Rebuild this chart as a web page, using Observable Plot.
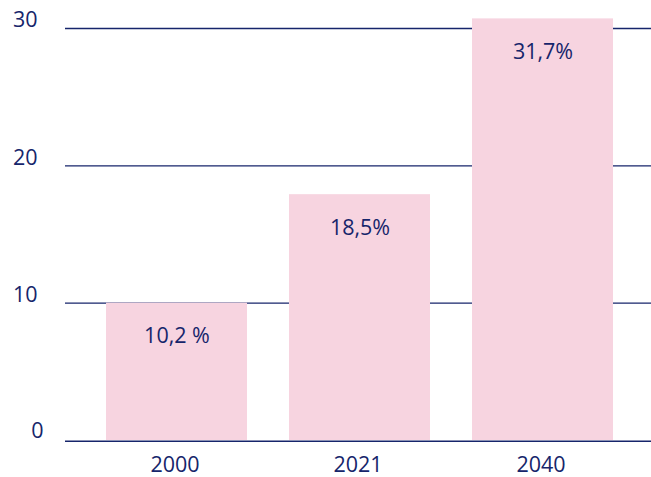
<!DOCTYPE html>
<html>
<head>
<meta charset="utf-8">
<script src="https://cdn.jsdelivr.net/npm/d3@7"></script>
<script src="https://cdn.jsdelivr.net/npm/@observablehq/plot@0.6"></script>
<style>
  html, body { margin: 0; padding: 0; background: #fff; }
  #chart svg { display: block; }
</style>
</head>
<body>
<div id="chart"></div>
<script>
const years = ["2000", "2021", "2040"];
const values = [10.0, 17.9, 30.7];
const labels = ["10,2 %", "18,5%", "31,7%"];
const yTicks = [0, 10, 20, 30];

const data = years.map((y, i) => ({year: y, value: values[i], label: labels[i]}));

const navy = "#16256b";
const pink = "#f7d4e0";
const font = "'Open Sans', 'Noto Sans', sans-serif";
const fs = 21.5;

const chart = Plot.plot({
  width: 651,
  height: 477,
  marginLeft: 65,
  marginRight: 0,
  marginTop: 28,
  marginBottom: 37,
  style: {fontFamily: font, fontSize: fs + "px", color: navy, background: "white"},
  x: {domain: years, range: [68, 651], paddingInner: 0.232, paddingOuter: 0.2045, label: null},
  y: {domain: [0, 30], label: null},
  marks: [
    Plot.ruleY(yTicks.filter(d => d !== 0), {stroke: navy, strokeWidth: 1.4}),
    Plot.barY(data, {x: "year", y: "value", fill: pink}),
    Plot.ruleY([0], {stroke: navy, strokeWidth: 1.4, dy: 0.7}),
    Plot.text(data, {x: "year", y: "value", text: "label", fill: navy, fontSize: fs, lineAnchor: "top", dy: 25}),
    Plot.text(yTicks.filter(d => d !== 0), {y: d => d, text: d => String(d), frameAnchor: "left", textAnchor: "end", dx: -28, dy: -8, fill: navy, fontSize: fs}),
    Plot.text(yTicks.filter(d => d === 0), {y: d => d, text: d => String(d), frameAnchor: "left", textAnchor: "end", dx: -22, dy: -9, fill: navy, fontSize: fs}),
    Plot.axisX({tickSize: 0, tickPadding: 16, fontSize: fs, fill: navy, label: null, dx: -2}),
    Plot.axisY({ticks: [], label: null})
  ]
});
document.getElementById("chart").appendChild(chart);
</script>
</body>
</html>
